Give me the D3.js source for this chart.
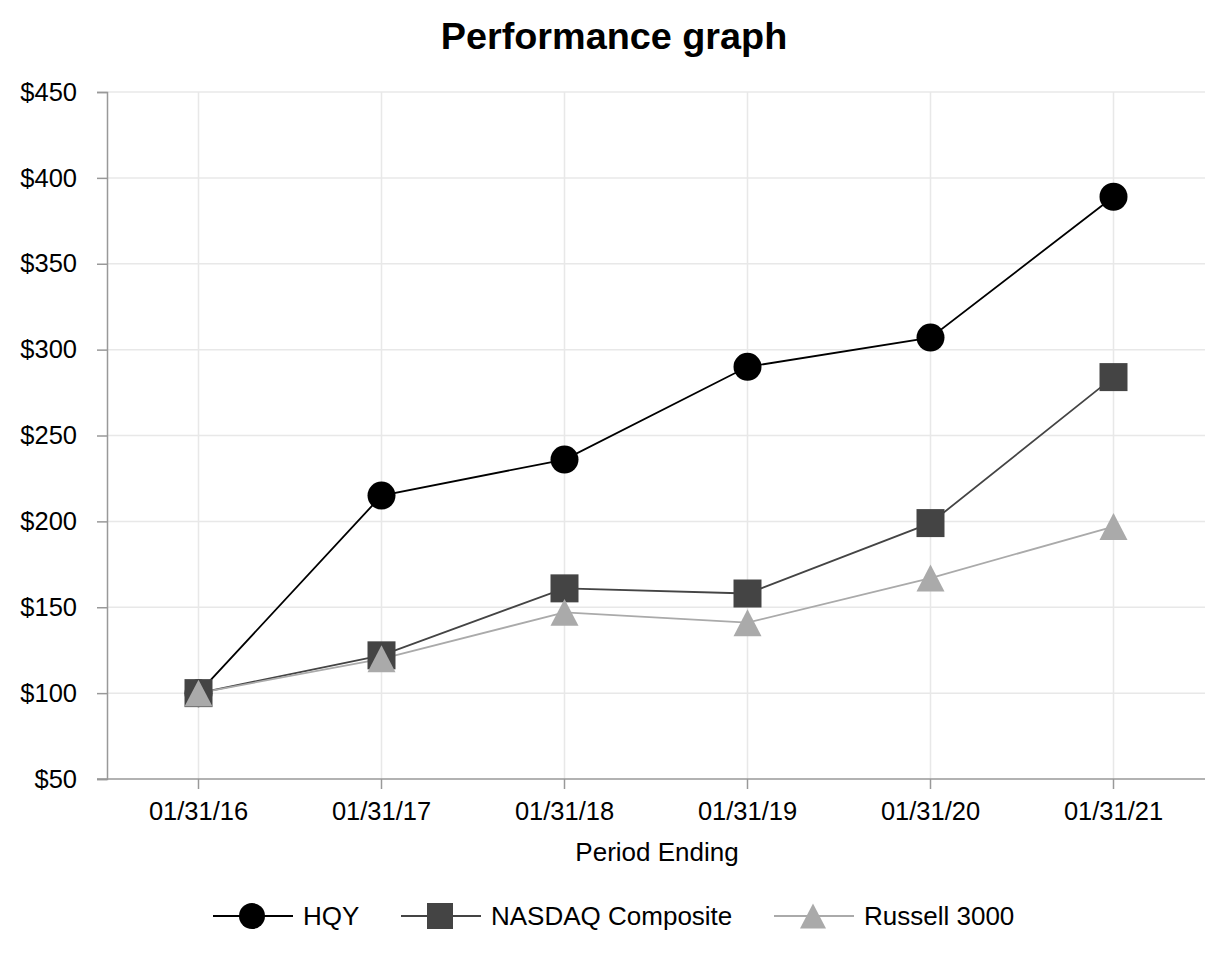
<!DOCTYPE html>
<html>
<head>
<meta charset="utf-8">
<script src="https://d3js.org/d3.v7.min.js"></script>
<style>
  body { margin: 0; background: #fff; }
  text { font-family: "Liberation Sans", Arial, sans-serif; }
</style>
</head>
<body>
<svg width="1226" height="960"></svg>
<script>
const periods = ["01/31/16", "01/31/17", "01/31/18", "01/31/19", "01/31/20", "01/31/21"];
const hqy = [100, 215, 236, 290, 307, 389];
const nasdaq = [100, 122, 161, 158, 199, 284];
const russell = [100, 120, 147, 141, 167, 197];
const yTicks = [50, 100, 150, 200, 250, 300, 350, 400, 450];

// box-centred triangle, a bit wider than it is tall
const triangle = {
  draw(ctx, size) {
    const w = Math.sqrt(size), h = w * 0.96;
    ctx.moveTo(0, -h / 2);
    ctx.lineTo(w / 2, h / 2);
    ctx.lineTo(-w / 2, h / 2);
    ctx.closePath();
  }
};

const series = [
  { name: "HQY", values: hqy, color: "#000000", symbol: d3.symbolCircle, size: Math.PI * 14 * 14, legendSize: Math.PI * 13 * 13, legendX: 213 },
  { name: "NASDAQ Composite", values: nasdaq, color: "#444444", symbol: d3.symbolSquare, size: 28 * 28, legendSize: 26 * 26, legendX: 401 },
  { name: "Russell 3000", values: russell, color: "#aaaaaa", symbol: triangle, size: 28 * 28, legendSize: 26 * 26, legendX: 774 }
];

const margin = { top: 92, right: 21, bottom: 181, left: 107 };
const width = 1226 - margin.left - margin.right;
const height = 960 - margin.top - margin.bottom;

const svg = d3.select("svg");
const g = svg.append("g").attr("transform", "translate(" + margin.left + "," + margin.top + ")");

const x = d3.scaleBand().domain(periods).range([0, width]).padding(0);
const y = d3.scaleLinear().domain([50, 450]).range([height, 0]);
const cx = d => x(d) + x.bandwidth() / 2;

// grid
g.append("g").selectAll("line").data(yTicks.slice(1)).enter().append("line")
  .attr("x1", 0).attr("x2", width)
  .attr("y1", d => y(d)).attr("y2", d => y(d))
  .attr("stroke", "#e8e8e8").attr("stroke-width", 1.5);
g.append("g").selectAll("line").data(periods).enter().append("line")
  .attr("x1", d => cx(d)).attr("x2", d => cx(d))
  .attr("y1", 0).attr("y2", height)
  .attr("stroke", "#e8e8e8").attr("stroke-width", 1.5);

// axes
const yAxis = g.append("g")
  .call(d3.axisLeft(y).tickValues(yTicks).tickFormat(d => "$" + d).tickSize(10).tickPadding(20));
const xAxis = g.append("g")
  .attr("transform", "translate(0," + height + ")")
  .call(d3.axisBottom(x).tickSize(10).tickPadding(13));
[yAxis, xAxis].forEach(a => {
  a.attr("font-size", null).attr("font-family", null);
  a.select(".domain").attr("stroke", "#999").attr("stroke-width", 1.5);
  a.selectAll(".tick line").attr("stroke", "#999").attr("stroke-width", 1.5);
  a.selectAll("text").style("font-size", "25.5px").attr("fill", "#000");
});
xAxis.select(".domain").attr("d", "M-10,0H" + width);

// lines and markers
const line = d3.line().x((d, i) => cx(periods[i])).y(d => y(d));
series.forEach(s => {
  g.append("path").datum(s.values)
    .attr("fill", "none").attr("stroke", s.color).attr("stroke-width", 1.8)
    .attr("d", line);
});
series.forEach(s => {
  g.selectAll(null).data(s.values).enter().append("path")
    .attr("transform", (d, i) => "translate(" + cx(periods[i]) + "," + y(d) + ")")
    .attr("d", d3.symbol().type(s.symbol).size(s.size))
    .attr("fill", s.color);
});

// title
svg.append("text").attr("x", 614).attr("y", 49).attr("text-anchor", "middle")
  .style("font-size", "37.8px").attr("font-weight", "bold").text("Performance graph");

// x label
svg.append("text").attr("x", 657).attr("y", 861).attr("text-anchor", "middle")
  .style("font-size", "26px").text("Period Ending");

// legend
const lg = svg.append("g").attr("transform", "translate(0,916)");
series.forEach(s => {
  const l = lg.append("g").attr("transform", "translate(" + s.legendX + ",0)");
  l.append("line").attr("x1", 0).attr("x2", 80).attr("y1", 0).attr("y2", 0)
    .attr("stroke", s.color).attr("stroke-width", 2);
  l.append("path").attr("transform", "translate(39,0)")
    .attr("d", d3.symbol().type(s.symbol).size(s.legendSize)).attr("fill", s.color);
  l.append("text").attr("x", 90).attr("y", 9).style("font-size", "26px").text(s.name);
});
</script>
</body>
</html>
